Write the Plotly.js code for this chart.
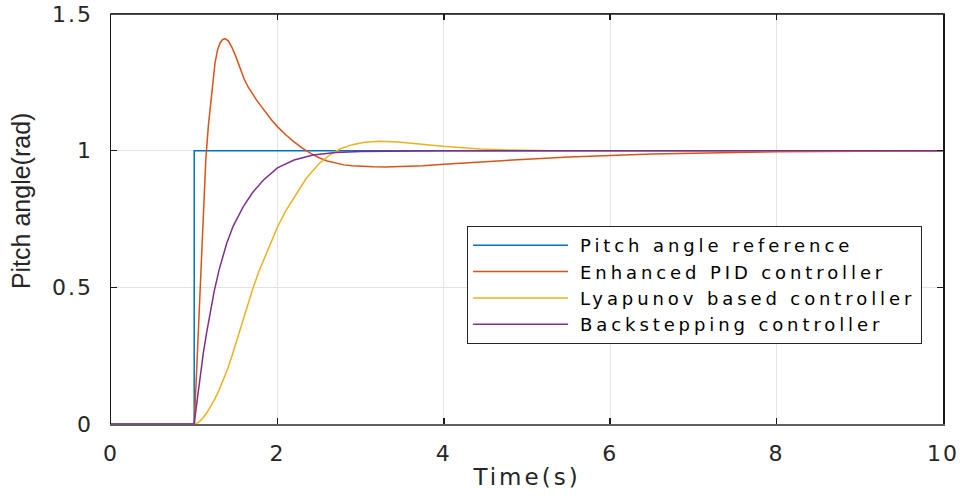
<!DOCTYPE html>
<html>
<head>
<meta charset="utf-8">
<script src="https://cdn.plot.ly/plotly-3.0.1.min.js"></script>
<style>
  html, body { margin: 0; padding: 0; background: #fff; }
  #chart { width: 963px; height: 497px; }
  .legendtext { letter-spacing: 3.9px; }
  .g-xtitle text, text.xtitle { letter-spacing: 3px; }
</style>
</head>
<body>
<div id="chart"></div>
<script>
// ---- data ----
const seriesNames = ["Pitch angle reference", "Enhanced PID controller", "Lyapunov based controller", "Backstepping controller"];

const refT = [0, 1, 1, 10];
const refY = [0, 0, 1, 1];

const pidT = [0, 1.0, 1.02, 1.04, 1.07, 1.10, 1.12, 1.14, 1.17, 1.20, 1.225, 1.25, 1.28, 1.31, 1.34, 1.37, 1.41, 1.45, 1.5, 1.55, 1.6, 1.65, 1.7, 1.75, 1.81, 1.87, 1.93, 2.0, 2.1, 2.2, 2.3, 2.4, 2.5, 2.6, 2.7, 2.8, 2.9, 3.0, 3.15, 3.3, 3.5, 3.75, 4.0, 4.5, 5.0, 5.5, 6.0, 6.5, 7.0, 7.5, 8.0, 9.0, 10];
const pidY = [0, 0, 0.13, 0.28, 0.5, 0.72, 0.85, 0.97, 1.09, 1.18, 1.255, 1.32, 1.368, 1.394, 1.406, 1.41, 1.402, 1.38, 1.345, 1.30, 1.262, 1.232, 1.207, 1.185, 1.16, 1.135, 1.112, 1.088, 1.058, 1.032, 1.009, 0.99, 0.974, 0.962, 0.954, 0.948, 0.945, 0.943, 0.941, 0.940, 0.941, 0.945, 0.950, 0.960, 0.969, 0.977, 0.983, 0.988, 0.991, 0.994, 0.996, 0.998, 1.0];

const lyaT = [0, 1.0, 1.05, 1.1, 1.15, 1.2, 1.25, 1.3, 1.35, 1.4, 1.45, 1.5, 1.55, 1.6, 1.65, 1.71, 1.78, 1.87, 1.94, 2.0, 2.1, 2.23, 2.35, 2.5, 2.63, 2.75, 2.9, 3.05, 3.23, 3.45, 3.63, 3.8, 3.99, 4.2, 4.43, 4.83, 5.3, 10];
const lyaY = [0, 0, 0.005, 0.02, 0.04, 0.065, 0.093, 0.125, 0.16, 0.2, 0.245, 0.295, 0.344, 0.395, 0.445, 0.5, 0.56, 0.628, 0.678, 0.72, 0.78, 0.845, 0.9, 0.952, 0.985, 1.006, 1.022, 1.031, 1.034, 1.032, 1.028, 1.022, 1.016, 1.01, 1.006, 1.002, 1.0, 1.0];

const bsT = [0, 1.0, 1.02, 1.04, 1.06, 1.08, 1.11, 1.15, 1.2, 1.24, 1.3, 1.39, 1.47, 1.59, 1.7, 1.83, 2.0, 2.2, 2.43, 2.7, 3.0, 3.5, 4.0, 10];
const bsY = [0, 0, 0.05, 0.1, 0.15, 0.195, 0.26, 0.335, 0.42, 0.485, 0.565, 0.66, 0.725, 0.795, 0.846, 0.892, 0.937, 0.966, 0.984, 0.993, 0.997, 0.999, 1.0, 1.0];

const xTicks = [0, 2, 4, 6, 8, 10];
const yTicks = [0, 0.5, 1, 1.5];
const yTickText = ["0", "0.5", "1", "1.5"];

const colors = ["#0072BD", "#D95319", "#EDB120", "#7E2F8E"];

const traces = [
  {x: refT, y: refY, name: seriesNames[0], mode: "lines", line: {color: colors[0], width: 1.5}},
  {x: pidT, y: pidY, name: seriesNames[1], mode: "lines", line: {color: colors[1], width: 1.5}},
  {x: lyaT, y: lyaY, name: seriesNames[2], mode: "lines", line: {color: colors[2], width: 1.5}},
  {x: bsT, y: bsY, name: seriesNames[3], mode: "lines", line: {color: colors[3], width: 1.5}}
];

const tickFont = {family: "DejaVu Sans, Liberation Sans, Arial", size: 22, color: "#262626"};

const layout = {
  width: 963, height: 497,
  paper_bgcolor: "#ffffff", plot_bgcolor: "#ffffff",
  margin: {l: 111, r: 20, t: 14, b: 73},
  showlegend: true,
  xaxis: {
    range: [0, 10], tickvals: xTicks, ticktext: xTicks.map(String),
    ticks: "inside", ticklen: 6, tickwidth: 1.5, tickcolor: "#1a1a1a",
    showline: true, mirror: "ticks", linecolor: "#5f5f5f", linewidth: 1.5,
    showgrid: true, gridcolor: "#e3e3e3", gridwidth: 1, zeroline: false,
    tickfont: tickFont, ticklabelstandoff: 9,
    title: {text: "Time(s)", font: {family: "DejaVu Sans, Liberation Sans, Arial", size: 23, color: "#262626"}, standoff: 4}
  },
  yaxis: {
    range: [0, 1.5], tickvals: yTicks, ticktext: yTickText,
    ticks: "inside", ticklen: 6, tickwidth: 1.5, tickcolor: "#1a1a1a",
    showline: true, mirror: "ticks", linecolor: "#1a1a1a", linewidth: 1.5,
    showgrid: true, gridcolor: "#e3e3e3", gridwidth: 1, zeroline: false,
    tickfont: tickFont, ticklabelstandoff: 12
  },
  annotations: [
    {text: "Pitch angle(rad)", xref: "paper", yref: "paper", x: -0.108, y: 0.544,
     xanchor: "center", yanchor: "middle", textangle: -90, showarrow: false,
     font: {family: "Liberation Sans, Arial", size: 25, color: "#262626"}}
  ],
  shapes: [
    {type: "line", xref: "paper", yref: "paper", x0: 0, x1: 1, y0: 1, y1: 1, line: {color: "#1a1a1a", width: 1.5}}
  ],
  legend: {
    x: 0.428, y: 0.483, xanchor: "left", yanchor: "top",
    bgcolor: "#ffffff", bordercolor: "#262626", borderwidth: 1,
    font: {family: "DejaVu Sans, Liberation Sans, Arial", size: 18, color: "#000000"},
    itemwidth: 102, tracegroupgap: 0
  }
};

Plotly.newPlot("chart", traces, layout, {displayModeBar: false, staticPlot: true}).then(function () {
  document.querySelectorAll(".legendlines path").forEach(function (p) {
    p.setAttribute("d", "M5,0h95");
  });
  document.querySelectorAll(".xtick text, .ytick text").forEach(function (t) {
    t.style.letterSpacing = "2px";
  });
});
</script>
</body>
</html>
